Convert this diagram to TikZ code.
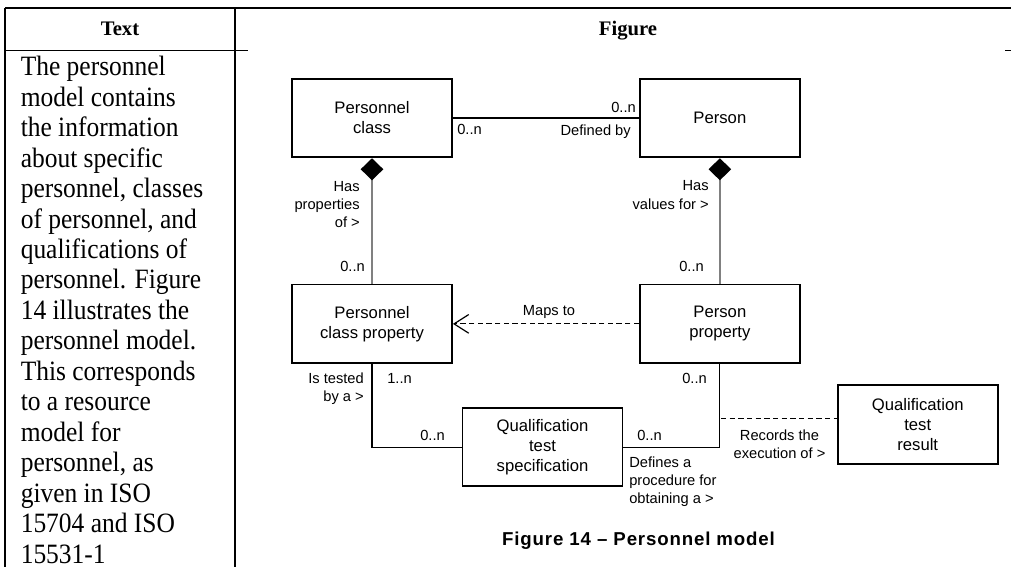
\documentclass[tikz,border=0pt]{standalone}
\usepackage{fontspec}
\setmainfont{Liberation Serif}
\setsansfont{Liberation Sans}
\newfontfamily\bodyfont[FakeStretch=0.91]{Liberation Serif}
\newfontfamily\capfont[LetterSpace=4.5]{Liberation Sans}
\usepackage{tikz}
\usetikzlibrary{shapes, arrows.meta, positioning}
\usetikzlibrary{calc}
\newcommand{\boxfont}{\sffamily\fontsize{12.5}{15}\selectfont}
\newcommand{\lblfont}{\sffamily\fontsize{11}{13.5}\selectfont}

\begin{document}
\begin{tikzpicture}[
            x=0.75pt, y=-0.75pt,
            entity/.style={rectangle, draw, line width=1.4pt, minimum width=120pt, minimum height=59pt, align=center, font=\boxfont},
            lbl/.style={font=\lblfont, inner sep=0pt},
            rule/.style={draw, line width=1.1pt},
            line/.style={draw, line width=0.8pt, -},
            comp/.style={draw=black!50, line width=1.1pt, -{Diamond[length=16.5pt, width=17pt, fill=black, color=black]}},
            dep/.style={draw, line width=0.9pt, dash pattern=on 4pt off 2.5pt},
        ]
            \useasboundingbox (0,0) rectangle (1011,567);

            % Tabla
            \draw[rule] (5,8) -- (1011,8);
            \draw[rule] (5,8) -- (5,567);
            \draw[rule] (235,8) -- (235,567);
            \draw[rule] (5,50.5) -- (248,50.5);
            \draw[rule] (1005,50.5) -- (1011,50.5);
            \node[font=\bfseries\fontsize{15.5}{18}\selectfont, anchor=base, inner sep=0pt] (col_text) at (120,36) {Text};
            \node[font=\bfseries\fontsize{15.5}{18}\selectfont, anchor=base, inner sep=0pt] (col_figure) at (628,36) {Figure};
            \node[font=\bodyfont\fontsize{21}{22.85}\selectfont, anchor=north west, inner sep=0pt, align=left] (body) at (20.5,56) {The personnel\\model contains\\the information\\about specific\\personnel, classes\\of personnel, and\\qualifications of\\personnel. Figure\\14 illustrates the\\personnel model.\\This corresponds\\to a resource\\model for\\personnel, as\\given in ISO\\15704 and ISO\\15531-1};

            % Clases
            \node[entity] (pclass) at (372,118) {Personnel\\class};
            \node[entity, right=139.5pt of pclass] (person) {Person};
            \node[entity, below=94pt of pclass] (pclass_prop) {Personnel\\class property};
            \node[entity, below=94pt of person] (person_prop) {Person\\property};
            \node[entity, below right=32pt and 6.5pt of pclass_prop] (qual_spec) {Qualification\\test\\specification};
            \node[entity, below right=15pt and 27pt of person_prop] (qual_result) {Qualification\\test\\result};

            % Etiquetas
            \node[lbl, anchor=base east] (m_person) at (636,112.5) {0..n};
            \node[lbl, anchor=base west] (m_pclass) at (457,135) {0..n};
            \node[lbl, anchor=base east] (defined) at (631,135.5) {Defined by};
            \node[lbl, anchor=base east, align=right] (has_prop) at (360,227) {Has\\properties\\of >};
            \node[lbl, anchor=base east] (m_pcp_top) at (365,271.7) {0..n};
            \node[lbl, anchor=base east, align=right] (has_val) at (709,209) {Has\\values for >};
            \node[lbl, anchor=base east] (m_pp_top) at (704,271.7) {0..n};
            \node[lbl, anchor=base] (maps) at (549,315.7) {Maps to};
            \node[lbl, anchor=base east, align=right] (tested) at (364,401.7) {Is tested\\by a >};
            \node[lbl, anchor=base west] (m_pcp_bot) at (387,383) {1..n};
            \node[lbl, anchor=base east] (m_pp_bot) at (707,383) {0..n};
            \node[lbl, anchor=base east] (m_qs_left) at (445,440.7) {0..n};
            \node[lbl, anchor=base west] (m_qs_right) at (637,440.7) {0..n};
            \node[lbl, anchor=base west, align=left] (defines) at (629,503) {Defines a\\procedure for\\obtaining a >};
            \node[lbl, anchor=base, align=center] (records) at (779.5,458.3) {Records the\\execution of >};
            \node[font=\capfont\bfseries\fontsize{14}{17}\selectfont, anchor=base, inner sep=0pt] (caption) at (638.5,545) {Figure 14 – Personnel model};

            % Conexiones
            \draw[line] (pclass) -- (person);
            \draw[comp] (pclass_prop) -- (pclass);
            \draw[comp] (person_prop) -- (person);
            \draw[dep, -{Straight Barb[length=11pt, width=14pt]}] (person_prop) -- (pclass_prop);
            \draw[line] (pclass_prop) |- (qual_spec);
            \draw[line] (person_prop) |- (qual_spec);
            \coordinate (rec) at (721,418.3);
            \draw[dep] (rec) -- (rec -| qual_result.west);
        \end{tikzpicture}
\end{document}
